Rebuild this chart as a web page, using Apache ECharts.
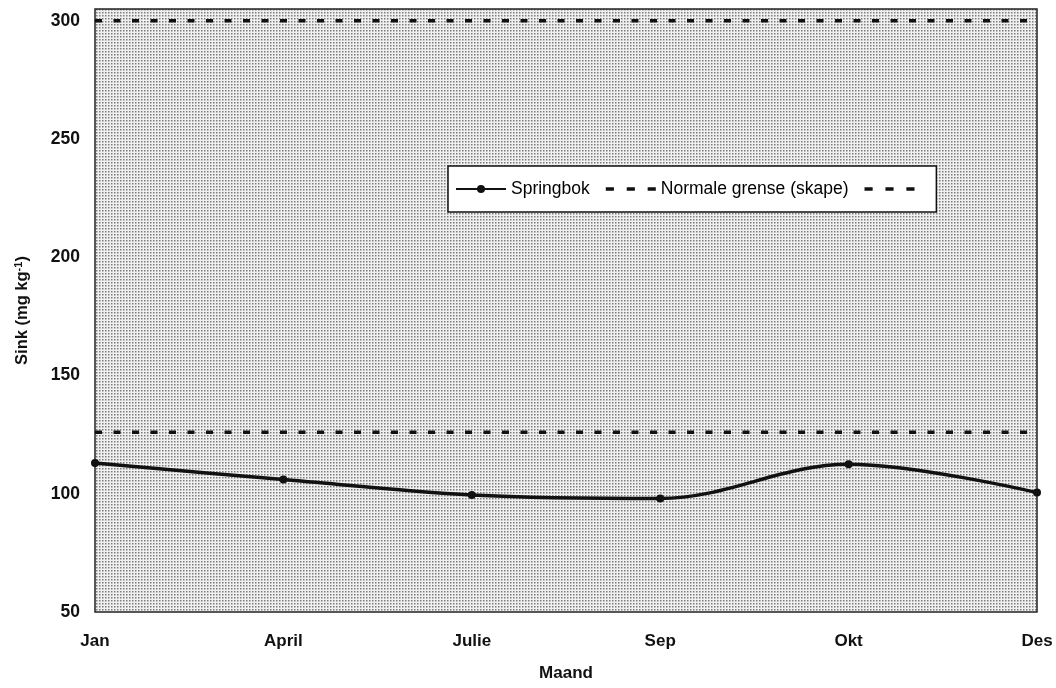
<!DOCTYPE html>
<html>
<head>
<meta charset="utf-8">
<script src="https://cdn.jsdelivr.net/npm/echarts@6/dist/echarts.min.js"></script>
<style>
html,body{margin:0;padding:0;background:#fff;}
#main{width:1056px;height:688px;}
</style>
</head>
<body>
<div id="main"></div>
<script>
const months = ['Jan', 'April', 'Julie', 'Sep', 'Okt', 'Des'];
const springbok = [113, 106, 99.5, 98, 112.5, 100.5];
const lowerLimit = [126, 126, 126, 126, 126, 126];
const upperLimit = [300, 300, 300, 300, 300, 300];
const yTicks = [50, 100, 150, 200, 250, 300];

function makePattern() {
  const c = document.createElement('canvas');
  c.width = 3; c.height = 3;
  const ctx = c.getContext('2d');
  ctx.fillStyle = '#f0f0f0';
  ctx.fillRect(0, 0, 3, 3);
  ctx.fillStyle = '#7c7c7c';
  ctx.fillRect(0, 0, 1.5, 1.5);
  return c;
}

const chart = echarts.init(document.getElementById('main'), null, {renderer: 'canvas'});
const font = 'Liberation Sans, Arial, sans-serif';
const dash = {type: [7, 11.5], width: 3.5, color: '#111'};
const dashIcon = 'path://M0,0h7v3h-7z M18,0h7v3h-7z M36,0h7v3h-7z';

chart.setOption({
  animation: false,
  textStyle: {fontFamily: font},
  grid: {
    left: 95, right: 19, top: 9, bottom: 76,
    show: true,
    backgroundColor: {image: makePattern(), repeat: 'repeat'},
    borderColor: '#222', borderWidth: 1.5
  },
  legend: {
    left: 448, top: 166,
    width: 494,
    padding: [14, 12, 14, 7],
    backgroundColor: '#fff',
    borderColor: '#111', borderWidth: 1.5,
    itemWidth: 50, itemHeight: 10, itemGap: 16,
    textStyle: {fontSize: 17.5, color: '#000', fontFamily: font},
    data: [
      {name: 'Springbok'},
      {name: 'Normale grense (skape)', icon: dashIcon},
      {name: ' ', icon: dashIcon}
    ]
  },
  xAxis: {
    type: 'category',
    data: months,
    boundaryGap: false,
    axisLine: {show: false},
    axisTick: {show: false},
    splitLine: {show: false},
    axisLabel: {fontSize: 17, fontWeight: 'bold', color: '#111', margin: 21},
    name: 'Maand',
    nameLocation: 'middle',
    nameGap: 53,
    nameTextStyle: {fontSize: 17, fontWeight: 'bold', color: '#111'}
  },
  yAxis: {
    type: 'value',
    min: 50, max: 305, interval: 50,
    axisLine: {show: false},
    axisTick: {show: false},
    splitLine: {show: false},
    axisLabel: {
      fontSize: 17.5, fontWeight: 'bold', color: '#111', margin: 15,
      formatter: v => yTicks.indexOf(v) >= 0 ? String(v) : ''
    },
    name: '{a|Sink (mg kg}{b|-1}{a|)}',
    nameLocation: 'middle',
    nameGap: 63,
    nameTextStyle: {
      color: '#111',
      rich: {
        a: {fontSize: 16.5, fontWeight: 'bold', color: '#111', fontFamily: font},
        b: {fontSize: 11, fontWeight: 'bold', color: '#111', fontFamily: font, verticalAlign: 'top', padding: [0, 0, 8, 0]}
      }
    }
  },
  series: [
    {
      name: 'Springbok', type: 'line', data: springbok,
      smooth: 0.35,
      symbol: 'circle', symbolSize: 8,
      lineStyle: {color: '#111', width: 3.5},
      itemStyle: {color: '#111'},
      z: 5
    },
    {
      name: 'Normale grense (skape)', type: 'line', data: lowerLimit,
      symbol: 'none', lineStyle: dash, itemStyle: {color: '#111'}
    },
    {
      name: ' ', type: 'line', data: upperLimit,
      symbol: 'none', lineStyle: dash, itemStyle: {color: '#111'}
    }
  ]
});
</script>
</body>
</html>
